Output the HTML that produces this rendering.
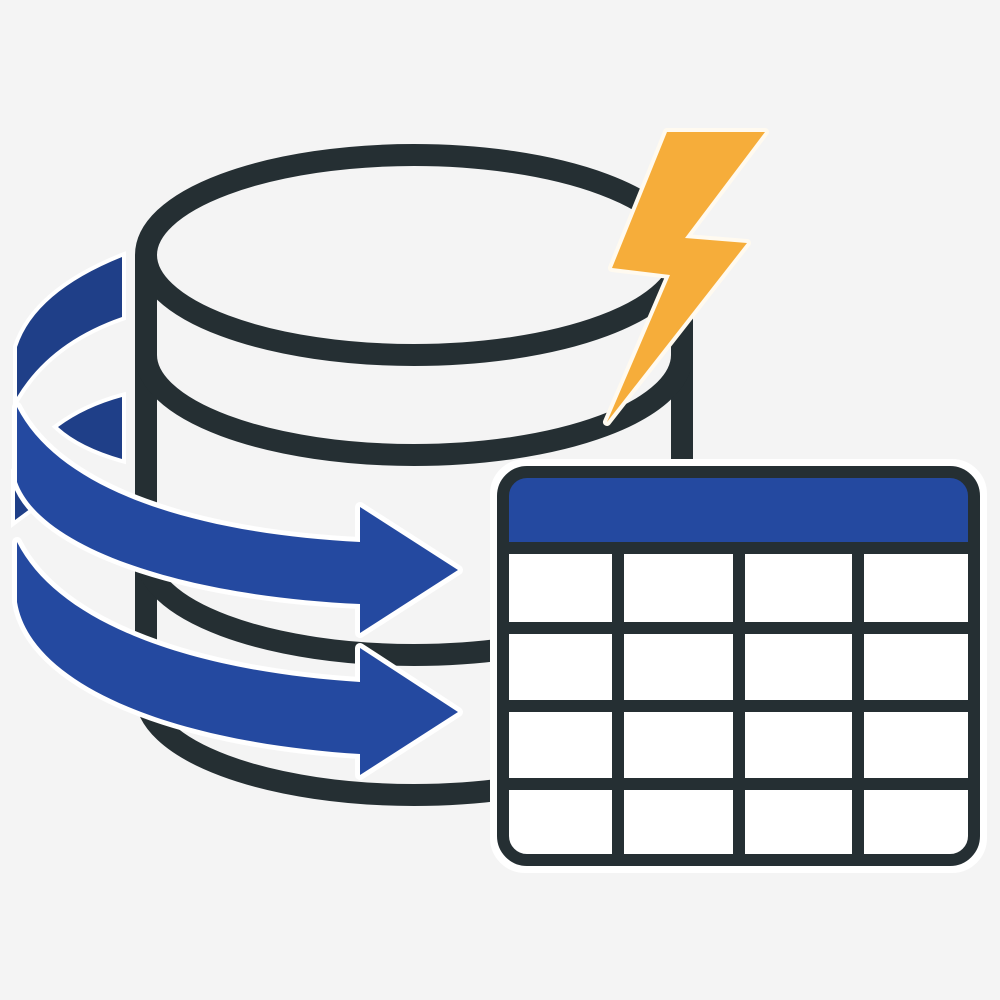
<!DOCTYPE html>
<html><head><style>html,body{margin:0;padding:0;background:#f4f4f4}svg{display:block}</style></head>
<body>
<svg width="1000" height="1000" viewBox="0 0 1000 1000" xmlns="http://www.w3.org/2000/svg">
<rect width="1000" height="1000" fill="#f4f4f4"/>
<g fill="none" stroke="#252f33" stroke-width="22">
  <ellipse cx="414" cy="255" rx="268" ry="100"/>
  <path d="M146,255 V700"/>
  <path d="M682,255 V470"/>
  <path d="M146,355 A268,100 0 0 0 682,355"/>
  <path d="M146,555 A268,100 0 0 0 682,555"/>
  <path d="M146,695 A268,100 0 0 0 682,695"/>
</g>
<g transform="translate(0,12)">
<g fill="#1f3f88" stroke="#fff" stroke-width="8" paint-order="stroke">
  <path d="M122,245 L122,305 Q50,330 17,385 L17,335 Q35,280 122,245Z"/>
  <path d="M122,385 L122,447 Q80,435 58,415 Q85,395 122,385Z"/>
  <path d="M15,465 L42,488 L15,508Z"/>
</g>
<g fill="#2449a0" stroke="#fff" stroke-width="10" paint-order="stroke" stroke-linejoin="round">
  <path d="M17,395 C60,480 200,522 360,530 L360,495 L458,558 L360,621 L360,592 C180,584 40,535 17,470 Z"/>
  <path d="M17,530 C60,615 200,660 360,670 L360,636 L458,700 L360,763 L360,742 C170,730 30,672 17,590 Z"/>
</g>
</g>
<polygon points="667,132 765,132 685,238 747,243 607,422 670,275 612,268" fill="#f6ad3a" stroke="#fffaf0" stroke-width="8" paint-order="stroke" stroke-linejoin="round"/>
<rect x="497" y="466" width="483" height="400" rx="28" fill="#fff" stroke="#fff" stroke-width="14"/>
<path d="M525,472 H952 A22,22 0 0 1 974,494 V545 H503 V494 A22,22 0 0 1 525,472Z" fill="#2449a0"/>
<g stroke="#252f33" stroke-width="12" fill="none">
  <rect x="503" y="472" width="471" height="388" rx="24"/>
  <path d="M503,548 H974 M503,628 H974 M503,706 H974 M503,784 H974"/>
  <path d="M618,548 V860 M739,548 V860 M858,548 V860"/>
</g>
</svg>
</body></html>
